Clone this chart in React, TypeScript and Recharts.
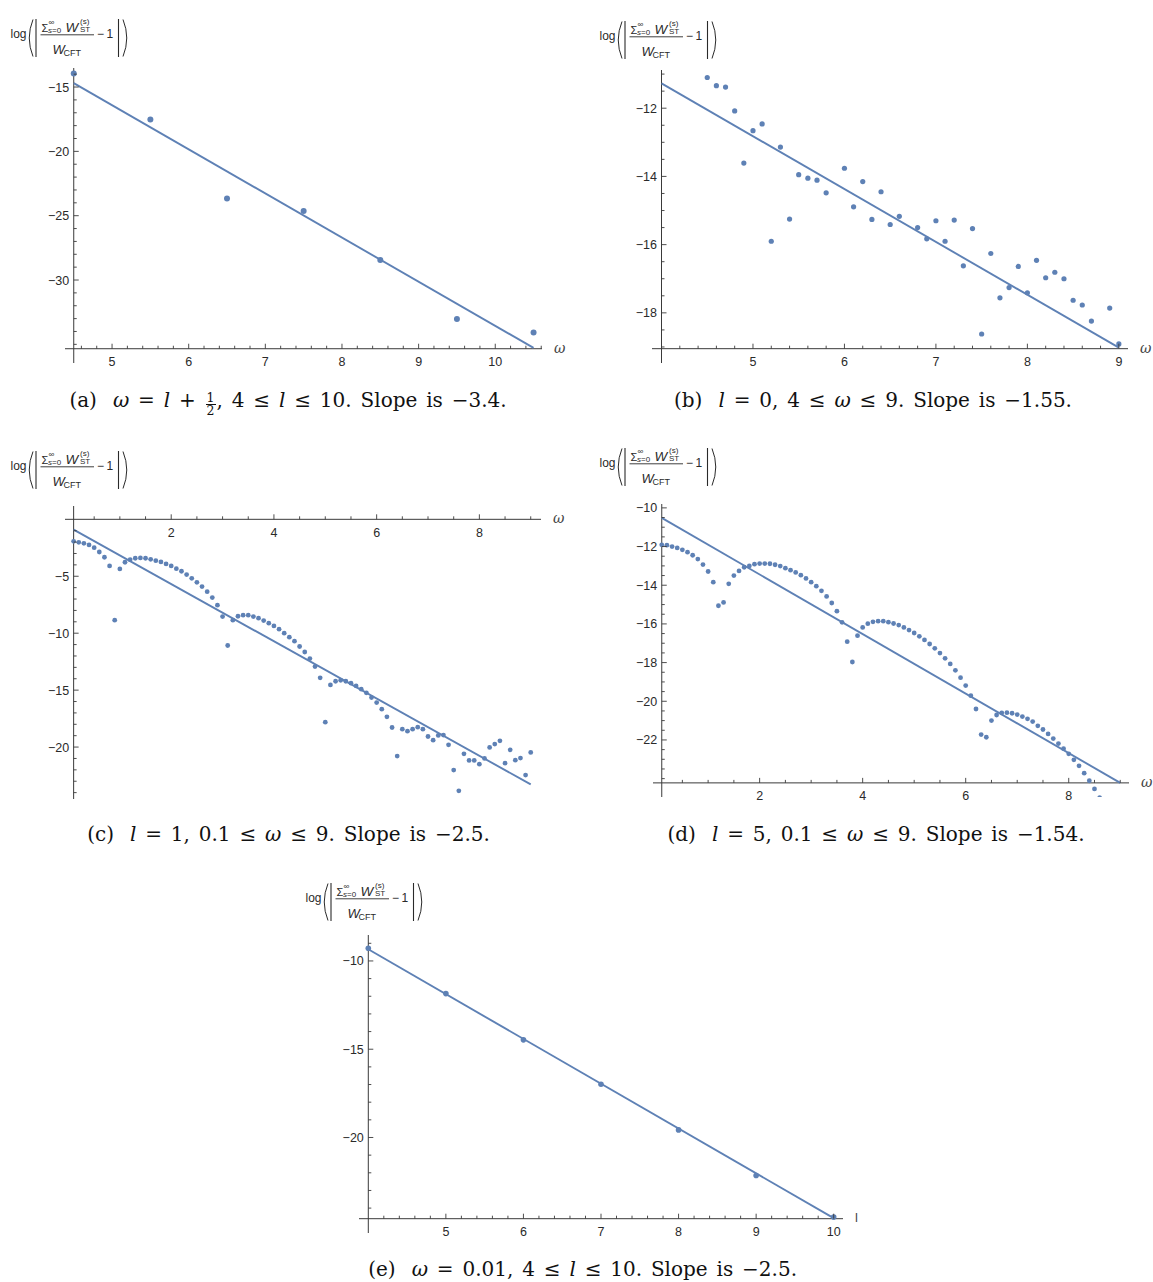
import React from "react"
import { ScatterChart, Scatter, XAxis, YAxis, ReferenceLine } from "recharts"

const BLUE = "#5E81B5"
const AXIS = "#3a3a3a"
const TXT = "#2a2a2a"
const SANS = "'Liberation Sans', Arial, sans-serif"
const SERIF = "'DejaVu Serif', 'Liberation Serif', serif"

// (a) omega = l + 1/2, 4 <= l <= 10
const omegaA = [4.5, 5.5, 6.5, 7.5, 8.5, 9.5, 10.5]
const logErrA = [-13.94, -17.52, -23.66, -24.64, -28.44, -33.03, -34.07]
const fitXA = [4.5, 10.5]
const fitYA = [-14.69, -35.28]
const xMajorA = [5, 6, 7, 8, 9, 10]
const yMajorA = [-15, -20, -25, -30]

// (b) l = 0, 4 <= omega <= 9
const omegaB = [4.5, 4.6, 4.7, 4.8, 4.9, 5.0, 5.1, 5.2, 5.3, 5.4, 5.5, 5.6, 5.7, 5.8, 6.0, 6.1, 6.2, 6.3, 6.4, 6.5, 6.6, 6.8, 6.9, 7.0, 7.1, 7.2, 7.3, 7.4, 7.5, 7.6, 7.7, 7.8, 7.9, 8.0, 8.1, 8.2, 8.3, 8.4, 8.5, 8.6, 8.7, 8.9, 9.0]
const logErrB = [-11.1, -11.34, -11.38, -12.08, -13.61, -12.66, -12.46, -15.9, -13.14, -15.25, -13.95, -14.05, -14.11, -14.48, -13.76, -14.89, -14.15, -15.26, -14.45, -15.41, -15.17, -15.5, -15.83, -15.3, -15.9, -15.28, -16.62, -15.53, -18.62, -16.26, -17.56, -17.26, -16.64, -17.41, -16.46, -16.97, -16.81, -17.0, -17.63, -17.77, -18.24, -17.86, -18.91]
const fitXB = [4, 9]
const fitYB = [-11.27, -19.02]
const xMajorB = [5, 6, 7, 8, 9]
const yMajorB = [-12, -14, -16, -18]

// (c) l = 1, 0.1 <= omega <= 9
const omegaC = [0.1, 0.2, 0.3, 0.4, 0.5, 0.6, 0.7, 0.8, 0.9, 1.0, 1.1, 1.2, 1.3, 1.4, 1.5, 1.6, 1.7, 1.8, 1.9, 2.0, 2.1, 2.2, 2.3, 2.4, 2.5, 2.6, 2.7, 2.8, 2.9, 3.0, 3.1, 3.2, 3.3, 3.4, 3.5, 3.6, 3.7, 3.8, 3.9, 4.0, 4.1, 4.2, 4.3, 4.4, 4.5, 4.6, 4.7, 4.8, 4.9, 5.0, 5.1, 5.2, 5.3, 5.4, 5.5, 5.6, 5.7, 5.8, 5.9, 6.0, 6.1, 6.2, 6.3, 6.4, 6.5, 6.6, 6.7, 6.8, 6.9, 7.0, 7.1, 7.2, 7.3, 7.4, 7.5, 7.6, 7.7, 7.8, 7.9, 8.0, 8.1, 8.2, 8.3, 8.4, 8.5, 8.6, 8.7, 8.8, 8.9, 9.0]
const logErrC = [-1.93, -2.02, -2.11, -2.25, -2.49, -2.87, -3.33, -4.09, -8.86, -4.36, -3.77, -3.54, -3.42, -3.39, -3.42, -3.51, -3.63, -3.74, -3.92, -4.09, -4.33, -4.56, -4.85, -5.18, -5.53, -5.91, -6.35, -6.87, -7.54, -8.54, -11.08, -8.86, -8.51, -8.42, -8.42, -8.54, -8.68, -8.89, -9.12, -9.36, -9.65, -10.0, -10.35, -10.7, -11.17, -11.65, -12.23, -12.93, -13.92, -17.81, -14.54, -14.22, -14.13, -14.22, -14.39, -14.63, -14.92, -15.24, -15.65, -16.09, -16.67, -17.34, -18.28, -20.79, -18.43, -18.6, -18.43, -18.25, -18.43, -19.07, -19.39, -18.98, -18.95, -19.8, -22.02, -23.84, -20.59, -21.17, -21.17, -21.5, -21.0, -20.03, -19.74, -19.45, -21.41, -20.24, -21.15, -20.97, -22.46, -20.47]
const fitXC = [0.1, 9]
const fitYC = [-0.91, -23.28]
const xMajorC = [2, 4, 6, 8]
const yMajorC = [-5, -10, -15, -20]

// (d) l = 5, 0.1 <= omega <= 9
const omegaD = [0.1, 0.2, 0.3, 0.4, 0.5, 0.6, 0.7, 0.8, 0.9, 1.0, 1.1, 1.2, 1.3, 1.4, 1.5, 1.6, 1.7, 1.8, 1.9, 2.0, 2.1, 2.2, 2.3, 2.4, 2.5, 2.6, 2.7, 2.8, 2.9, 3.0, 3.1, 3.2, 3.3, 3.4, 3.5, 3.6, 3.7, 3.8, 3.9, 4.0, 4.1, 4.2, 4.3, 4.4, 4.5, 4.6, 4.7, 4.8, 4.9, 5.0, 5.1, 5.2, 5.3, 5.4, 5.5, 5.6, 5.7, 5.8, 5.9, 6.0, 6.1, 6.2, 6.3, 6.4, 6.5, 6.6, 6.7, 6.8, 6.9, 7.0, 7.1, 7.2, 7.3, 7.4, 7.5, 7.6, 7.7, 7.8, 7.9, 8.0, 8.1, 8.2, 8.3, 8.4, 8.5, 8.6]
const logErrD = [-11.91, -11.93, -12.0, -12.07, -12.17, -12.29, -12.45, -12.65, -12.93, -13.29, -13.84, -15.06, -14.89, -13.93, -13.5, -13.26, -13.07, -13.0, -12.91, -12.88, -12.88, -12.89, -12.94, -13.01, -13.12, -13.22, -13.34, -13.48, -13.65, -13.84, -14.05, -14.29, -14.58, -14.92, -15.34, -15.92, -16.92, -17.97, -16.61, -16.18, -15.99, -15.89, -15.86, -15.86, -15.91, -15.98, -16.06, -16.18, -16.32, -16.47, -16.64, -16.83, -17.04, -17.26, -17.51, -17.78, -18.07, -18.4, -18.78, -19.19, -19.71, -20.4, -21.72, -21.86, -21.0, -20.71, -20.6, -20.59, -20.62, -20.69, -20.79, -20.91, -21.05, -21.27, -21.46, -21.69, -21.93, -22.19, -22.45, -22.72, -23.03, -23.34, -23.72, -24.11, -24.53, -24.99]
const fitXD = [0.1, 9]
const fitYD = [-10.52, -24.22]
const xMajorD = [2, 4, 6, 8]
const yMajorD = [-10, -12, -14, -16, -18, -20, -22]

// (e) omega = 0.01, 4 <= l <= 10
const lE = [4, 5, 6, 7, 8, 9, 10]
const logErrE = [-9.28, -11.85, -14.47, -16.98, -19.57, -22.15, -24.51]
const fitXE = [4, 10]
const fitYE = [-9.34, -24.57]
const xMajorE = [5, 6, 7, 8, 9, 10]
const yMajorE = [-10, -15, -20]

function steps(from: number, to: number, step: number) {
  const out: number[] = []
  const n = Math.round((to - from) / step)
  for (let i = 0; i <= n; i++) out.push(Math.round((from + i * step) * 100) / 100)
  return out
}

const pairs = (xs: number[], ys: number[]) => xs.map((x, i) => ({ x, y: ys[i] }))
const isMajor = (v: number, majors: number[]) => majors.some((m) => Math.abs(m - v) < 1e-6)
const fmt = (v: number) => (v < 0 ? "\u2212" + Math.abs(v) : String(v))

type PanelCfg = {
  left: number
  top: number
  w: number
  h: number
  xDomain: [number, number]
  yDomain: [number, number]
  xCross: number
  yCross: number
  xTicks: number[]
  yTicks: number[]
  xMajor: number[]
  yMajor: number[]
  pts: { x: number; y: number }[]
  fit: { x: number; y: number }[]
  r: number
  xLabel: string
  formula: [number, number]
}

function YLabel({ x, y }: { x: number; y: number }) {
  return (
    <svg
      style={{ position: "absolute", left: x, top: y, overflow: "visible" }}
      width={130}
      height={44}
      fontFamily={SANS}
      fill={TXT}
    >
      <text x={0.5} y={20.5} fontSize={12}>log</text>
      <path d="M23 2.5 Q15.5 21 23 39.5" stroke={TXT} fill="none" strokeWidth={1} />
      <line x1={26} y1={2} x2={26} y2={40} stroke={TXT} strokeWidth={1.1} />
      <text x={31.5} y={14.5} fontSize={11}>Σ</text>
      <text x={38.5} y={7.5} fontSize={8}>∞</text>
      <text x={38} y={15.5} fontSize={8}>
        <tspan fontStyle="italic">s</tspan>=0
      </text>
      <text x={55.5} y={14.5} fontSize={13.5} fontStyle="italic">W</text>
      <text x={70} y={7} fontSize={8}>(s)</text>
      <text x={70} y={14.5} fontSize={8}>ST</text>
      <line x1={30.5} y1={17.8} x2={84} y2={17.8} stroke={TXT} strokeWidth={0.9} />
      <text x={42.5} y={37} fontSize={13} fontStyle="italic">W</text>
      <text x={53.5} y={38.5} fontSize={9}>CFT</text>
      <text x={87} y={21} fontSize={12}>{"\u2212"}</text>
      <text x={96.5} y={21} fontSize={12}>1</text>
      <line x1={108.5} y1={2} x2={108.5} y2={40} stroke={TXT} strokeWidth={1.1} />
      <path d="M113 2.5 Q120.5 21 113 39.5" stroke={TXT} fill="none" strokeWidth={1} />
    </svg>
  )
}

function Panel({ c }: { c: PanelCfg }) {
  const mL = 60
  const mR = 40
  const mT = 10
  const mB = 34
  const yLift = ((c.yCross - c.yDomain[0]) / (c.yDomain[1] - c.yDomain[0])) * c.h
  const xShift = ((c.xCross - c.xDomain[0]) / (c.xDomain[1] - c.xDomain[0])) * c.w
  const axisY = c.top + c.h - yLift

  const xTick = (props: any) => {
    const { x, y, payload } = props
    const v = payload.value
    const major = isMajor(v, c.xMajor)
    const ay = y - yLift
    return (
      <g>
        <line x1={x} x2={x} y1={ay} y2={ay - (major ? 5 : 3)} stroke={AXIS} strokeWidth={0.9} />
        {major && (
          <text x={x} y={ay + 17.5} textAnchor="middle" fontSize={12.5} fill={TXT} fontFamily={SANS}>
            {fmt(v)}
          </text>
        )}
      </g>
    )
  }

  const yTick = (props: any) => {
    const { x, y, payload } = props
    const v = payload.value
    const major = isMajor(v, c.yMajor)
    const ax = x + xShift
    return (
      <g>
        <line x1={ax} x2={ax + (major ? 5 : 3)} y1={y} y2={y} stroke={AXIS} strokeWidth={0.9} />
        {major && (
          <text x={ax - 4.5} y={y + 4.5} textAnchor="end" fontSize={12.5} fill={TXT} fontFamily={SANS}>
            {fmt(v)}
          </text>
        )}
      </g>
    )
  }

  // axes get 1px of room so that Recharts renders their ticks
  return (
    <>
      <div style={{ position: "absolute", left: c.left - mL, top: c.top - mT }}>
        <ScatterChart
          width={c.w + mL + mR}
          height={c.h + mT + mB}
          margin={{ top: mT, right: mR, bottom: mB - 1, left: mL - 1 }}
        >
          <XAxis
            type="number"
            dataKey="x"
            domain={c.xDomain}
            allowDataOverflow
            ticks={c.xTicks}
            interval={0}
            height={1}
            axisLine={false}
            tickLine={false}
            tickSize={0}
            tickMargin={0}
            tick={xTick}
          />
          <YAxis
            type="number"
            dataKey="y"
            domain={c.yDomain}
            allowDataOverflow
            ticks={c.yTicks}
            interval={0}
            width={1}
            axisLine={false}
            tickLine={false}
            tickSize={0}
            tickMargin={0}
            tick={yTick}
          />
          <ReferenceLine
            segment={[
              { x: c.xDomain[0], y: c.yCross },
              { x: c.xDomain[1], y: c.yCross },
            ]}
            stroke={AXIS}
            strokeWidth={1}
          />
          <ReferenceLine
            segment={[
              { x: c.xCross, y: c.yDomain[0] },
              { x: c.xCross, y: c.yDomain[1] },
            ]}
            stroke={AXIS}
            strokeWidth={1}
          />
          <Scatter
            data={c.pts}
            isAnimationActive={false}
            shape={(p: any) => <circle cx={p.cx} cy={p.cy} r={c.r} fill={BLUE} />}
          />
          <Scatter
            data={c.fit}
            isAnimationActive={false}
            line={{ stroke: BLUE, strokeWidth: 1.9 }}
            shape={() => <g />}
          />
        </ScatterChart>
      </div>
      <span
        style={{
          position: "absolute",
          left: c.left + c.w + 12,
          top: axisY - 10,
          fontFamily: c.xLabel === "l" ? SANS : SERIF,
          fontStyle: c.xLabel === "l" ? "normal" : "italic",
          fontSize: c.xLabel === "l" ? 13 : 14,
          lineHeight: "18px",
          color: "#444",
        }}
      >
        {c.xLabel}
      </span>
      <YLabel x={c.formula[0]} y={c.formula[1]} />
    </>
  )
}

function Caption({ cx, baseline, children }: { cx: number; baseline: number; children: React.ReactNode }) {
  return (
    <div
      style={{
        position: "absolute",
        left: cx - 300,
        width: 600,
        top: baseline - 16.5,
        lineHeight: "20px",
        textAlign: "center",
        fontFamily: SERIF,
        fontSize: 20,
        color: "#111",
        whiteSpace: "nowrap",
        wordSpacing: "2.5px",
      }}
    >
      {children}
    </div>
  )
}

function Half() {
  return (
    <span
      style={{
        display: "inline-flex",
        flexDirection: "column",
        alignItems: "center",
        fontSize: 12.5,
        lineHeight: "11.5px",
        verticalAlign: "5px",
        margin: "0 1px",
      }}
    >
      <span>1</span>
      <span style={{ borderTop: "1px solid #111", padding: "0 1px" }}>2</span>
    </span>
  )
}

const Tag = ({ t }: { t: string }) => <span style={{ marginRight: 16 }}>{t}</span>

const panels: PanelCfg[] = [
  {
    left: 65, top: 68, w: 477, h: 295,
    xDomain: [4.386, 10.61], yDomain: [-36.45, -13.52], xCross: 4.5, yCross: -35.34,
    xTicks: steps(4.6, 10.6, 0.2), yTicks: steps(-35, -14, 1), xMajor: xMajorA, yMajor: yMajorA,
    pts: pairs(omegaA, logErrA), fit: pairs(fitXA, fitYA), r: 3, xLabel: "ω", formula: [10, 17],
  },
  {
    left: 652, top: 70, w: 476, h: 293,
    xDomain: [3.896, 9.1], yDomain: [-19.47, -10.88], xCross: 4, yCross: -19.05,
    xTicks: steps(4.2, 9.0, 0.2), yTicks: steps(-19, -11, 0.5), xMajor: xMajorB, yMajor: yMajorB,
    pts: pairs(omegaB, logErrB), fit: pairs(fitXB, fitYB), r: 2.6, xLabel: "ω", formula: [599, 19],
  },
  {
    left: 65, top: 506, w: 476, h: 293,
    xDomain: [-0.068, 9.2], yDomain: [-24.56, 1.17], xCross: 0.1, yCross: 0,
    xTicks: steps(0.5, 9.0, 0.5), yTicks: steps(-24, -1, 1), xMajor: xMajorC, yMajor: yMajorC,
    pts: pairs(omegaC, logErrC), fit: pairs(fitXC, fitYC), r: 2.4, xLabel: "ω", formula: [10, 449],
  },
  {
    left: 653, top: 504, w: 476, h: 293,
    xDomain: [-0.07, 9.17], yDomain: [-24.95, -9.8], xCross: 0.1, yCross: -24.22,
    xTicks: steps(0.5, 9.0, 0.5), yTicks: steps(-24, -10, 0.5), xMajor: xMajorD, yMajor: yMajorD,
    pts: pairs(omegaD, logErrD), fit: pairs(fitXD, fitYD), r: 2.4, xLabel: "ω", formula: [599, 446],
  },
  {
    left: 359, top: 935, w: 484, h: 298,
    xDomain: [3.88, 10.12], yDomain: [-25.41, -8.53], xCross: 4, yCross: -24.6,
    xTicks: steps(4.2, 10.0, 0.2), yTicks: steps(-24, -9, 1), xMajor: xMajorE, yMajor: yMajorE,
    pts: pairs(lE, logErrE), fit: pairs(fitXE, fitYE), r: 2.8, xLabel: "l", formula: [305, 881],
  },
]

export default function App() {
  return (
    <div style={{ position: "relative", width: 1153, height: 1282, background: "#fff", overflow: "hidden" }}>
      <style>{"body{margin:0}"}</style>
      {panels.map((p, i) => (
        <Panel key={i} c={p} />
      ))}
      <Caption cx={288} baseline={406.7}>
        <Tag t="(a)" />
        <i>ω</i> = <i>l</i> + <Half />, 4 ≤ <i>l</i> ≤ 10. Slope is −3.4.
      </Caption>
      <Caption cx={873} baseline={406.7}>
        <Tag t="(b)" />
        <i>l</i> = 0, 4 ≤ <i>ω</i> ≤ 9. Slope is −1.55.
      </Caption>
      <Caption cx={288.5} baseline={840.7}>
        <Tag t="(c)" />
        <i>l</i> = 1, 0.1 ≤ <i>ω</i> ≤ 9. Slope is −2.5.
      </Caption>
      <Caption cx={876} baseline={840.7}>
        <Tag t="(d)" />
        <i>l</i> = 5, 0.1 ≤ <i>ω</i> ≤ 9. Slope is −1.54.
      </Caption>
      <Caption cx={582.6} baseline={1275}>
        <Tag t="(e)" />
        <i>ω</i> = 0.01, 4 ≤ <i>l</i> ≤ 10. Slope is −2.5.
      </Caption>
    </div>
  )
}
